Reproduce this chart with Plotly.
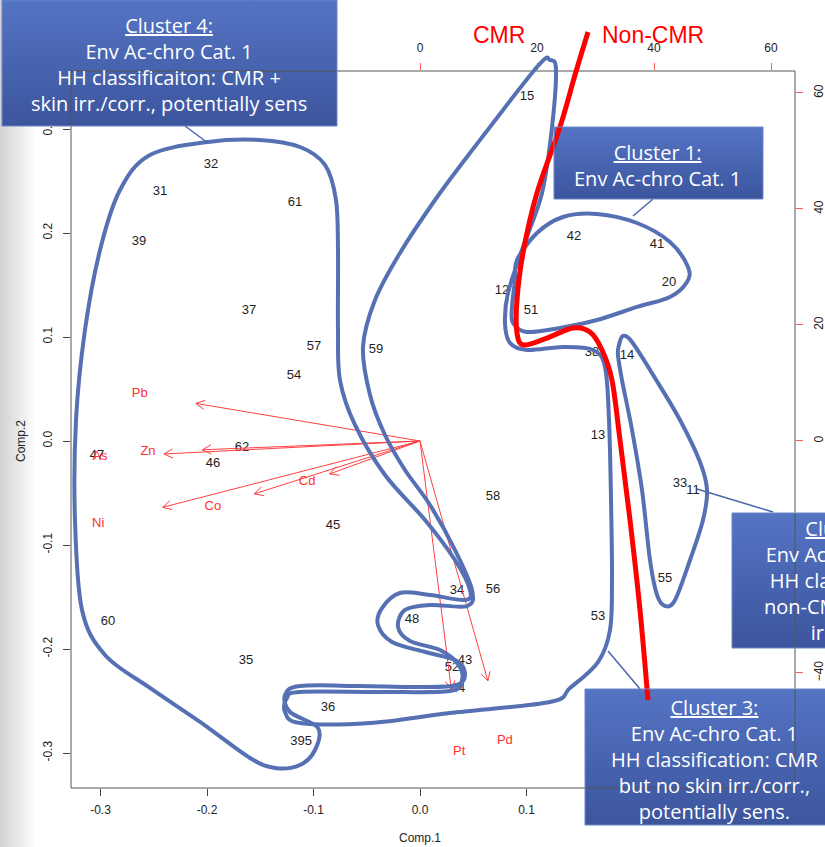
import base64
import math
import plotly.graph_objects as go

# ---------------- PCA scores (Comp.1 / Comp.2) ----------------
obs_labels = ["15", "32", "31", "61", "39", "42", "41", "20", "12", "51",
              "37", "57", "59", "38", "14", "54", "13", "62", "47", "46",
              "33", "11", "58", "45", "56", "34", "55", "60", "48", "53",
              "35", "52", "43", "44", "36", "395"]
comp1 = [0.1005, -0.1962, -0.2441, -0.1174, -0.2638, 0.1446, 0.2225, 0.2338, 0.0770, 0.1042,
         -0.1606, -0.0995, -0.0413, 0.1615, 0.1944, -0.1183, 0.1671, -0.1671, -0.3033, -0.1944,
         0.2441, 0.2563, 0.0685, -0.0817, 0.0685, 0.0347, 0.2300, -0.2930, -0.0075, 0.1671,
         -0.1634, 0.0300, 0.0423, 0.0357, -0.0864, -0.1117]
comp2 = [0.3308, 0.2654, 0.2394, 0.2288, 0.1913, 0.1962, 0.1885, 0.1519, 0.1442, 0.1250,
         0.1250, 0.0904, 0.0875, 0.0846, 0.0817, 0.0625, 0.0048, -0.0067, -0.0144, -0.0221,
         -0.0413, -0.0481, -0.0538, -0.0817, -0.1433, -0.1442, -0.1327, -0.1740, -0.1721, -0.1692,
         -0.2115, -0.2183, -0.2115, -0.2385, -0.2567, -0.2894]

# ---------------- variable loadings (top / right scale) ----------------
var_names = ["Pb", "Zn", "As", "Ni", "Co", "Cd", "Pt", "Pd"]
load1 = [-47.9, -46.5, -54.7, -55.0, -35.4, -19.3, 6.7, 14.5]
load2 = [8.1, -1.9, -2.8, -14.3, -11.4, -7.1, -53.6, -51.7]
ARROW_LEN = 0.8  # arrows stop at 80% of the label position, as in biplot()

# ---------------- axes ----------------
x1_range = [-0.3277, 0.3521]
y1_range = [-0.33365, 0.35577]
x2_range = [-59.66, 64.10]
y2_range = [-59.83, 63.79]
ticks1 = [-0.3, -0.2, -0.1, 0.0, 0.1, 0.2, 0.3]
ticks2 = [-60, -40, -20, 0, 20, 40, 60]

W, H = 825, 847
ML, MR, MT, MB = 71, 30, 71, 59
PW, PH = W - ML - MR, H - MT - MB


def to_paper(xp, yp):
    """Page pixel position -> paper fraction of the plotting area."""
    return (xp - ML) / PW, (H - MB - yp) / PH


def smooth_path(pts, closed=True):
    """Catmull-Rom spline through page points, as an SVG path in paper units."""
    P = [to_paper(*p) for p in pts]
    n = len(P)
    d = "M{:.4f},{:.4f}".format(*P[0])
    segs = range(n) if closed else range(n - 1)
    for i in segs:
        p0 = P[(i - 1) % n] if (closed or i > 0) else P[0]
        p1 = P[i]
        p2 = P[(i + 1) % n]
        p3 = P[(i + 2) % n] if (closed or i + 2 < n) else P[-1]
        c1 = (p1[0] + (p2[0] - p0[0]) / 6, p1[1] + (p2[1] - p0[1]) / 6)
        c2 = (p2[0] - (p3[0] - p1[0]) / 6, p2[1] - (p3[1] - p1[1]) / 6)
        d += " C{:.4f},{:.4f} {:.4f},{:.4f} {:.4f},{:.4f}".format(*c1, *c2, *p2)
    if closed:
        d += " Z"
    return d


def gradient_uri(top, bottom, horizontal=False):
    x2, y2 = ("1", "0") if horizontal else ("0", "1")
    svg = ("<svg xmlns='http://www.w3.org/2000/svg' width='100' height='100' "
           "viewBox='0 0 100 100' preserveAspectRatio='none'><defs>"
           f"<linearGradient id='g' x1='0' y1='0' x2='{x2}' y2='{y2}'>"
           f"<stop offset='0' stop-color='{top}'/><stop offset='1' stop-color='{bottom}'/>"
           "</linearGradient></defs><rect width='100' height='100' fill='url(#g)'/></svg>")
    return "data:image/svg+xml;base64," + base64.b64encode(svg.encode()).decode()


fig = go.Figure()

# variable arrows (thin red, open V heads)
HEAD = 1.7
ang = math.radians(28)
for vx, vy in zip(load1, load2):
    tx, ty = vx * ARROW_LEN, vy * ARROW_LEN
    L = math.hypot(tx, ty)
    ux, uy = tx / L, ty / L
    hx1 = tx - HEAD * (ux * math.cos(ang) - uy * math.sin(ang))
    hy1 = ty - HEAD * (uy * math.cos(ang) + ux * math.sin(ang))
    hx2 = tx - HEAD * (ux * math.cos(ang) + uy * math.sin(ang))
    hy2 = ty - HEAD * (uy * math.cos(ang) - ux * math.sin(ang))
    fig.add_trace(go.Scatter(x=[0, tx, None, hx1, tx, hx2], y=[0, ty, None, hy1, ty, hy2],
                             mode="lines", line=dict(color="#ff4040", width=1),
                             xaxis="x2", yaxis="y2", hoverinfo="skip", showlegend=False))

fig.add_trace(go.Scatter(x=load1, y=load2, text=var_names, mode="text",
                         textfont=dict(family="Liberation Sans, Arial", size=13, color="#ff3030"),
                         xaxis="x2", yaxis="y2", hoverinfo="skip", showlegend=False))

fig.add_trace(go.Scatter(x=comp1, y=comp2, text=obs_labels, mode="text",
                         textfont=dict(family="Liberation Sans, Arial", size=13, color="#1e1e1e"),
                         xaxis="x", yaxis="y", hoverinfo="skip", showlegend=False))

tickfont = dict(family="Liberation Sans, Arial", size=12, color="#222222")
axis_common = dict(showgrid=False, zeroline=False, showline=False, ticks="outside",
                   ticklen=7, tickwidth=1, tickfont=tickfont, automargin=False)

fig.update_layout(
    width=W, height=H, margin=dict(l=ML, r=MR, t=MT, b=MB, autoexpand=False),
    paper_bgcolor="white", plot_bgcolor="white",
    xaxis=dict(range=x1_range, tickvals=ticks1, ticktext=[f"{t:.1f}" for t in ticks1],
               tickcolor="#444444", ticklabelstandoff=4, **axis_common),
    yaxis=dict(range=y1_range, tickvals=ticks1, ticktext=[f"{t:.1f}" for t in ticks1],
               tickangle=-90, tickcolor="#444444", ticklabelstandoff=6, **axis_common),
    xaxis2=dict(range=x2_range, tickvals=ticks2, overlaying="x", side="top",
                tickcolor="#ff5a5a", ticklabelstandoff=6, **axis_common),
    yaxis2=dict(range=y2_range, tickvals=ticks2, overlaying="y", side="right",
                tickangle=-90, tickcolor="#ff5a5a", ticklabelstandoff=6, **axis_common),
)

shapes = []
images = []
annotations = []

# light grey slide edge on the left
images.append(dict(source=gradient_uri("#d2d2d2", "#ffffff", horizontal=True),
                   xref="paper", yref="paper", x=to_paper(0, 0)[0], y=to_paper(0, 0)[1],
                   sizex=36 / PW, sizey=H / PH, sizing="stretch", layer="below",
                   xanchor="left", yanchor="top"))

# plot frame
shapes.append(dict(type="rect", xref="paper", yref="paper", x0=0, y0=0, x1=1, y1=1,
                   line=dict(color="#555555", width=1), layer="above"))

# hand-drawn cluster outlines (page pixels)
outline_c1 = [(517, 260), (537, 233), (563, 217), (597, 214), (637, 223), (670, 242),
              (688, 267), (687, 282), (670, 297), (637, 307), (597, 320), (560, 328),
              (527, 332), (513, 323), (512, 307), (515, 280)]
outline_c2 = [(619, 345), (623, 336), (632, 342), (655, 378), (680, 420), (700, 462),
              (707, 490), (703, 520), (690, 560), (675, 600), (665, 606), (657, 595),
              (650, 560), (642, 490), (632, 430), (622, 380), (618, 355)]
outline_c3 = [(470, 153), (537, 67), (550, 60), (556, 70), (552, 127), (542, 193),
              (523, 247), (508, 293), (505, 323), (510, 343), (527, 350), (563, 347),
              (593, 350), (605, 367), (609, 420), (611, 500), (612, 580), (610, 630),
              (598, 662), (570, 688), (550, 702), (450, 713), (370, 723), (300, 723),
              (285, 712), (287, 698), (300, 692), (380, 692), (450, 691), (462, 680),
              (458, 664), (440, 650), (410, 641), (398, 627), (405, 610), (430, 605),
              (467, 606), (472, 590), (455, 550), (430, 505), (405, 470), (385, 435),
              (370, 395), (363, 347), (375, 300), (400, 253), (435, 200)]
outline_c4 = [(208, 142), (260, 140), (300, 147), (325, 165), (336, 200), (338, 250),
              (338, 330), (340, 380), (355, 425), (385, 475), (425, 520), (455, 560),
              (470, 590), (465, 600), (430, 595), (400, 593), (382, 608), (378, 625),
              (392, 642), (425, 652), (455, 660), (465, 673), (457, 685), (420, 687),
              (360, 686), (300, 686), (285, 695), (290, 712), (318, 728), (315, 750),
              (300, 765), (275, 768), (250, 758), (200, 722), (150, 688), (105, 655),
              (82, 610), (75, 520), (76, 420), (85, 330), (100, 250), (120, 190), (150, 155)]
OUTLINE = dict(color="#5670b4", width=4)
for pts in (outline_c1, outline_c2, outline_c3, outline_c4):
    shapes.append(dict(type="path", xref="paper", yref="paper", path=smooth_path(pts),
                       line=OUTLINE, fillcolor="rgba(0,0,0,0)", layer="above"))

# CMR / non-CMR divide
divide = [(588, 32), (575, 75), (560, 127), (537, 193), (523, 253), (517, 300), (517, 333),
          (524, 345), (547, 338), (573, 328), (590, 332), (602, 350), (612, 380), (620, 440),
          (630, 520), (640, 610), (648, 700)]
shapes.append(dict(type="path", xref="paper", yref="paper", path=smooth_path(divide, closed=False),
                   line=dict(color="#ff0000", width=5), layer="above"))

# leader lines from the callouts
for (xa, ya), (xb, yb) in [((185, 126), (208, 143)), ((653, 199), (633, 216)),
                           ((773, 512), (697, 489)), ((640, 689), (608, 651))]:
    pa, pb = to_paper(xa, ya), to_paper(xb, yb)
    shapes.append(dict(type="line", xref="paper", yref="paper", x0=pa[0], y0=pa[1],
                       x1=pb[0], y1=pb[1], line=dict(color="#4a64ad", width=1.5), layer="above"))

# callout boxes
callouts = [
    ((2, 0, 337, 126), (169, 64),
     "<u>Cluster 4:</u><br>Env Ac-chro Cat. 1<br>HH classificaiton: CMR +<br>"
     "skin irr./corr., potentially sens"),
    ((554, 127, 763, 199), (657, 166), "<u>Cluster 1:</u><br>Env Ac-chro Cat. 1"),
    ((732, 513, 966, 648), (849, 580),
     "<u>Cluster 2:</u><br>Env Ac-chro Cat. 1<br>HH classification:<br>non-CMR, but skin<br>irr./corr."),
    ((585, 689, 845, 825), (715, 759),
     "<u>Cluster 3:</u><br>Env Ac-chro Cat. 1<br>HH classification: CMR<br>"
     "but no skin irr./corr.,<br>potentially sens."),
]
for (x0, y0, x1, y1), (cx, cy), txt in callouts:
    p0 = to_paper(x0, y0)
    images.append(dict(source=gradient_uri("#5474c4", "#3c559d"), xref="paper", yref="paper",
                       x=p0[0], y=p0[1], sizex=(x1 - x0) / PW, sizey=(y1 - y0) / PH,
                       sizing="stretch", layer="above", xanchor="left", yanchor="top"))
    a, b = to_paper(x0, y0), to_paper(x1, y1)
    shapes.append(dict(type="rect", xref="paper", yref="paper", x0=a[0], y0=a[1], x1=b[0], y1=b[1],
                       line=dict(color="#6f86c8", width=1), layer="above"))
    c = to_paper(cx, cy)
    annotations.append(dict(x=c[0], y=c[1], xref="paper", yref="paper", text=txt,
                            showarrow=False, xanchor="center", yanchor="middle", align="center",
                            font=dict(family="Open Sans", size=20, color="white")))

# CMR / Non-CMR labels
for txt, (cx, cy) in [("CMR", (499, 35)), ("Non-CMR", (653, 35))]:
    c = to_paper(cx, cy)
    annotations.append(dict(x=c[0], y=c[1], xref="paper", yref="paper", text=txt, showarrow=False,
                            xanchor="center", yanchor="middle",
                            font=dict(family="Liberation Sans, Arial", size=23, color="#ff0000")))

# axis titles
c = to_paper(420, 838)
annotations.append(dict(x=c[0], y=c[1], xref="paper", yref="paper", text="Comp.1", showarrow=False,
                        xanchor="center", yanchor="middle",
                        font=dict(family="Liberation Sans, Arial", size=12, color="#222222")))
c = to_paper(21, 441)
annotations.append(dict(x=c[0], y=c[1], xref="paper", yref="paper", text="Comp.2", showarrow=False,
                        xanchor="center", yanchor="middle", textangle=-90,
                        font=dict(family="Liberation Sans, Arial", size=12, color="#222222")))

fig.update_layout(shapes=shapes, images=images, annotations=annotations)
fig.write_html("out.html")
